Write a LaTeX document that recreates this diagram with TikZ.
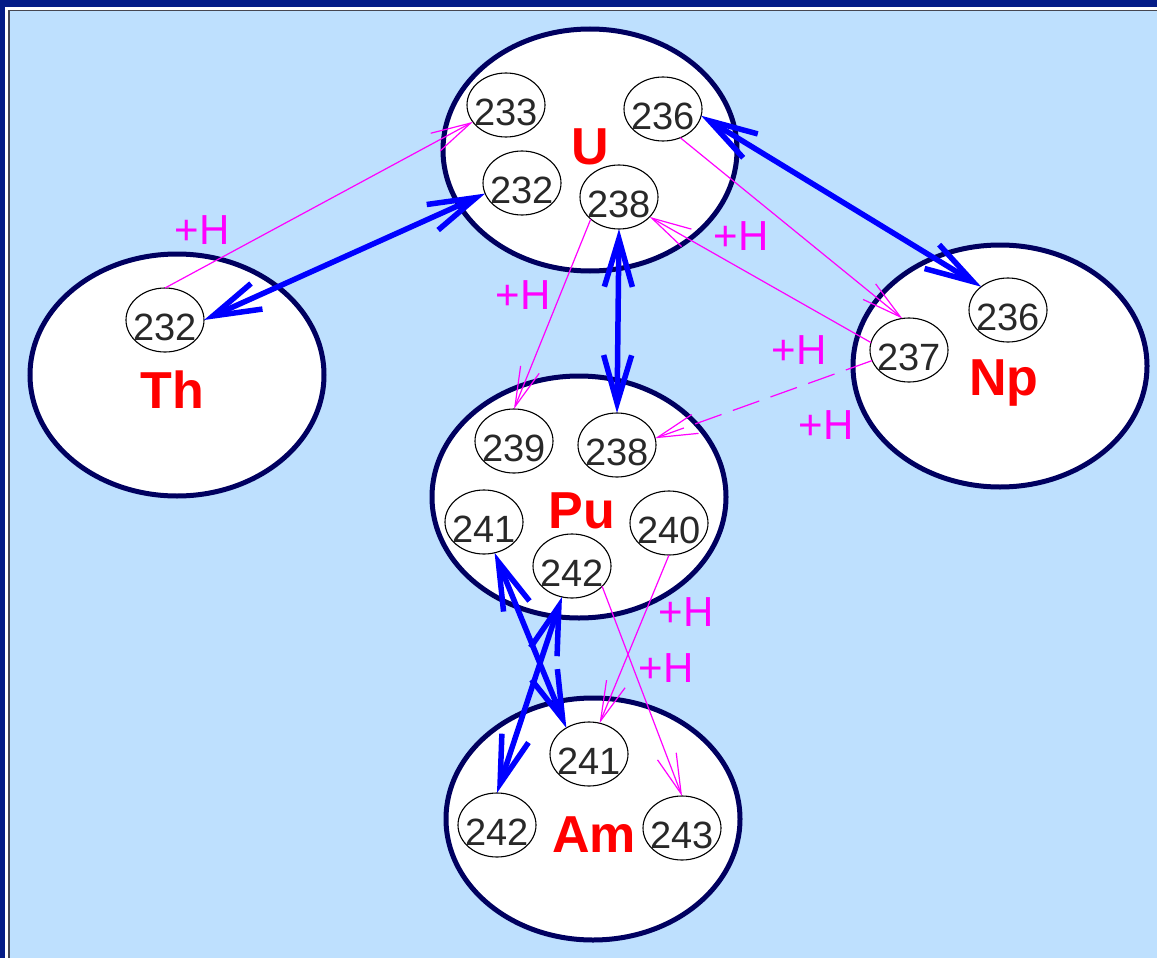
\documentclass[tikz,border=0pt]{standalone}
\usepackage{fontspec}
\setmainfont{Liberation Sans}
\usetikzlibrary{arrows.meta,shapes.geometric}
\definecolor{framebl}{RGB}{4,28,135}
\definecolor{bglight}{RGB}{190,224,254}
\definecolor{framegray}{RGB}{70,70,80}
\definecolor{navyline}{RGB}{0,0,96}
\definecolor{arrblue}{RGB}{0,0,255}
\definecolor{mag}{RGB}{255,0,255}
\definecolor{numgray}{RGB}{40,40,40}
\definecolor{elred}{RGB}{255,0,0}
\begin{document}
\begin{tikzpicture}[x=1pt,y=-1pt,
  big/.style={ellipse, draw=navyline, line width=5pt, fill=white, inner sep=0pt, outer sep=0pt, minimum width=294pt, minimum height=242pt},
  iso/.style={ellipse, draw=black, line width=1.1pt, fill=white, inner sep=0pt, outer sep=0pt, minimum width=78pt, minimum height=64pt},
  num/.style={text=numgray, font=\fontsize{38}{38}\selectfont, inner sep=0pt, yshift=-7pt},
  elem/.style={text=elred, font=\fontsize{52}{52}\selectfont\bfseries, inner sep=0pt, anchor=base},
  hlab/.style={text=mag, font=\fontsize{42}{42}\selectfont, inner sep=0pt},
  bluearr/.style={draw=arrblue, line width=5.5pt, {Straight Barb[length=48pt,width=28pt]}-{Straight Barb[length=48pt,width=28pt]}},
  magarr/.style={draw=mag, line width=1.2pt, -{Straight Barb[length=40pt,width=20pt]}},
  dashpat/.style={dash pattern=on 28pt off 12pt}
]
% frame
\fill[framebl] (0,0) rectangle (1157,958);
\fill[white] (5,7) rectangle (1157,958);
\fill[framegray] (8,10) rectangle (1157,958);
\fill[bglight] (9.5,11.5) rectangle (1157,958);
\useasboundingbox (0,0) rectangle (1157,958);

% big ellipses
\node[big] (th) at (177,375) {};
\node[big] (u)  at (590,150) {};
\node[big] (np) at (1000,366) {};
\node[big] (pu) at (579,497) {};
\node[big] (am) at (593,819) {};

% element labels
\node[elem] (thlab) at (172,408) {Th};
\node[elem] (ulab)  at (590,164) {U};
\node[elem] (nplab) at (1004,395) {Np};
\node[elem] (pulab) at (582,528) {Pu};
\node[elem] (amlab) at (594,852) {Am};

% isotopes
\node[iso] (th232) at (165,320) {};
\node[iso] (u233) at (506,105) {};
\node[iso] (u236) at (663,109) {};
\node[iso] (u232) at (522,183) {};
\node[iso] (u238) at (619,197) {};
\node[iso] (np236) at (1008,310) {};
\node[iso] (np237) at (909,350) {};
\node[iso] (pu239) at (514,441) {};
\node[iso] (pu238) at (617,445) {};
\node[iso] (pu241) at (484,522) {};
\node[iso] (pu240) at (669,523) {};
\node[iso] (pu242) at (572,566) {};
\node[iso] (am241) at (589,754) {};
\node[iso] (am242) at (497,825) {};
\node[iso] (am243) at (682,828) {};

\node[num] (tth232) at (th232) {232};
\node[num] (tu233) at (u233) {233};
\node[num] (tu236) at (u236) {236};
\node[num] (tu232) at (u232) {232};
\node[num] (tu238) at (u238) {238};
\node[num] (tnp236) at (np236) {236};
\node[num] (tnp237) at (np237) {237};
\node[num] (tpu239) at (pu239) {239};
\node[num] (tpu238) at (pu238) {238};
\node[num] (tpu241) at (pu241) {241};
\node[num] (tpu240) at (pu240) {240};
\node[num] (tpu242) at (pu242) {242};
\node[num] (tam241) at (am241) {241};
\node[num] (tam242) at (am242) {242};
\node[num] (tam243) at (am243) {243};

% +H labels
\node[hlab] (h1) at (202,230) {+H};
\node[hlab] (h2) at (523,295) {+H};
\node[hlab] (h3) at (741,236) {+H};
\node[hlab] (h4) at (799,350) {+H};
\node[hlab] (h5) at (826,425) {+H};
\node[hlab] (h6) at (686,612) {+H};
\node[hlab] (h7) at (666,668) {+H};

% magenta arrows
\draw[magarr] (th232.north) -- (u233.207);
\draw[magarr] (u238.218) -- (pu239.north);
\draw[magarr] (np237.169) -- (u238.327);
\draw[magarr] (u236.301) -- (np237.102);
\draw[magarr, dashpat] (np237.196) -- (pu238.10);
\draw[magarr] (pu240.south) -- (am241.71);
\draw[magarr] (pu242.326) -- (am243.north);

% blue arrows
\draw[bluearr] (th232.east) -- (u232.196);
\draw[bluearr] (u238.south) -- (pu238.north);
\draw[bluearr] (u236.-10) -- (np236.139);
\draw[bluearr] (pu241.289) -- (am241.131);
\draw[bluearr] (pu242.252) -- (am242.north);
\end{tikzpicture}
\end{document}
